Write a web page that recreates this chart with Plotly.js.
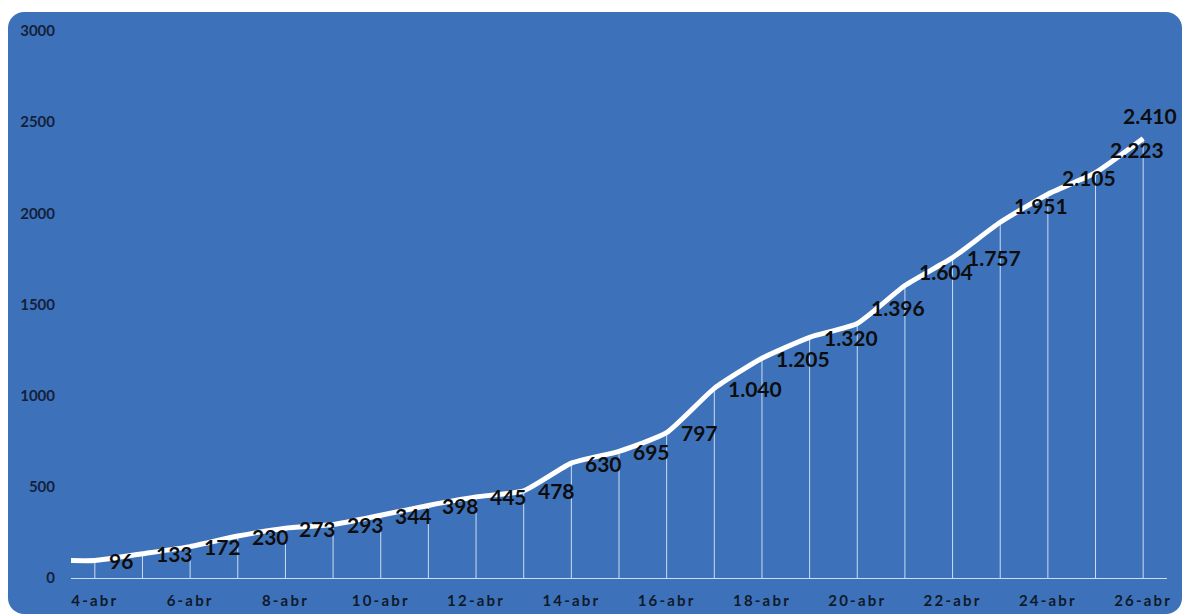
<!DOCTYPE html>
<html><head><meta charset="utf-8">
<script src="https://cdn.plot.ly/plotly-3.0.1.min.js"></script>
<style>
html,body{margin:0;padding:0;background:#fff;overflow:hidden;}
#panel{position:absolute;left:8px;top:12px;width:1174px;height:602px;background:#3d72ba;border-radius:16px;}
#chart{position:absolute;left:0;top:0;width:1182px;height:614px;}
.xtick text{letter-spacing:2.2px;}
</style></head><body>
<div id="panel"></div><div id="chart"></div>
<script>
const days = ["4-abr","5-abr","6-abr","7-abr","8-abr","9-abr","10-abr","11-abr","12-abr","13-abr","14-abr","15-abr","16-abr","17-abr","18-abr","19-abr","20-abr","21-abr","22-abr","23-abr","24-abr","25-abr","26-abr"];
const cases = [96,133,172,230,273,293,344,398,445,478,630,695,797,1040,1205,1320,1396,1604,1757,1951,2105,2223,2410];
const yTicks = [0,500,1000,1500,2000,2500,3000];

// label placement styling (pixel shifts only)
const labelShiftY = [0,0,0,0,0,0,0,0,0,0,0,0,0,0,0,0,16,14,0,17,17,23,23];

function fmt(n){ return String(n).replace(/\B(?=(\d{3})+(?!\d))/g, "."); }

const idx = days.map((d,i)=>i);
const xRange = [-0.5, days.length-0.5];
const tickIdx = idx.filter(i=>i%2===0);

const annotations = cases.map((v,i)=>{
  const last = i === cases.length-1;
  return {
    x: i, y: v, xref:'x', yref:'y', text: fmt(v), showarrow:false,
    xanchor: last ? 'center' : 'left', yanchor:'middle',
    xshift: last ? 7 : 12, yshift: labelShiftY[i],
    font:{family:'Lato, sans-serif', size:21, color:'#0d0d0d', weight:'bold'}
  };
});

// line runs from the plot's left edge (level with the first value) through every point
const lineTrace = {
  x: [xRange[0]].concat(idx), y: [cases[0]].concat(cases), type:'scatter', mode:'lines',
  line:{color:'#ffffff', width:5, shape:'spline', smoothing:0.5},
  hoverinfo:'skip'
};
const dropTrace = {
  x: idx, y: cases, type:'scatter', mode:'markers', marker:{size:1, color:'rgba(0,0,0,0)'},
  error_y:{type:'data', symmetric:false, array:cases.map(()=>0), arrayminus:cases,
    color:'rgba(255,255,255,0.75)', thickness:1, width:0},
  hoverinfo:'skip'
};

const layout = {
  width:1182, height:614,
  margin:{l:71, r:15, t:31, b:36},
  paper_bgcolor:'rgba(0,0,0,0)', plot_bgcolor:'rgba(0,0,0,0)',
  showlegend:false,
  xaxis:{range:xRange, tickvals:tickIdx, ticktext:tickIdx.map(i=>days[i]), showgrid:false, zeroline:false,
    showline:true, linecolor:'rgba(255,255,255,0.75)', linewidth:1,
    ticks:'outside', ticklen:9, tickcolor:'rgba(0,0,0,0)',
    tickfont:{family:'Lato, sans-serif', size:15, color:'#0f1a2c', weight:'bold'}},
  yaxis:{range:[0,3000], tickvals:yTicks, ticktext:yTicks.map(String), showgrid:false, zeroline:false,
    showline:false, ticks:'', ticklabelstandoff:15,
    tickfont:{family:'Lato, sans-serif', size:15, color:'#14213a', weight:'bold'}},
  annotations: annotations
};
Plotly.newPlot('chart',[dropTrace, lineTrace],layout,{displayModeBar:false, staticPlot:true});
</script></body></html>
